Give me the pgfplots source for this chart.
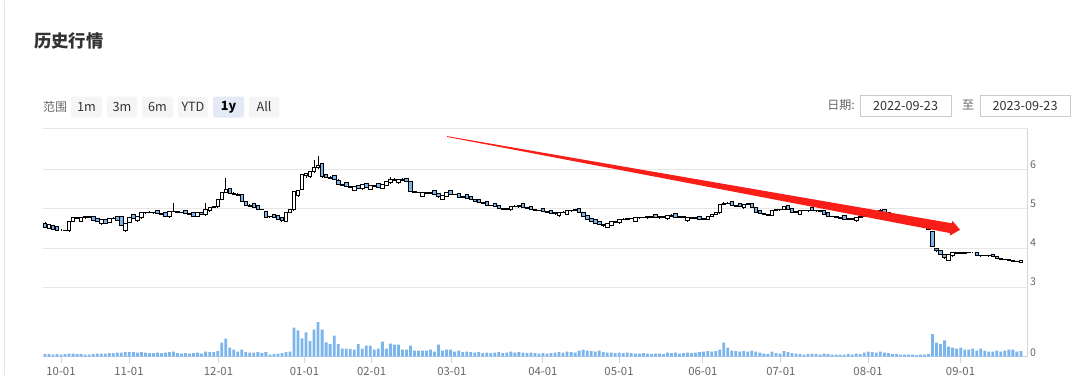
\documentclass[border=0pt]{standalone}
\usepackage{pgfplots}
\pgfplotsset{compat=1.18}
\usepackage{pgfplotstable}
\usepackage{fontspec}
\setmainfont{Noto Sans CJK SC}
\definecolor{cblue}{HTML}{7CB5EC}
\definecolor{gridc}{HTML}{E6E6E6}
\definecolor{axisc}{HTML}{CCD6EB}
\definecolor{labc}{HTML}{666666}
\definecolor{txt}{HTML}{333333}
\definecolor{btn}{HTML}{F5F5F5}
\definecolor{btnsel}{HTML}{E4EAF5}
\definecolor{boxc}{HTML}{CCCCCC}
\definecolor{arrowred}{RGB}{250,30,25}

\pgfplotstableread{
i o h l c v
0 4.63 4.66 4.51 4.53 25
1 4.50 4.62 4.49 4.60 25
2 4.59 4.60 4.47 4.48 20
3 4.55 4.56 4.44 4.45 25
4 4.46 4.48 4.44 4.46 20
5 4.46 4.47 4.43 4.45 25
6 4.44 4.69 4.43 4.68 30
7 4.68 4.80 4.67 4.79 30
8 4.78 4.80 4.76 4.77 25
9 4.69 4.80 4.68 4.78 25
10 4.78 4.82 4.77 4.80 20
11 4.80 4.81 4.77 4.79 20
12 4.80 4.81 4.69 4.70 25
13 4.77 4.78 4.66 4.67 30
14 4.62 4.73 4.61 4.72 30
15 4.74 4.75 4.62 4.64 30
16 4.66 4.78 4.65 4.77 35
17 4.77 4.79 4.75 4.76 35
18 4.80 4.81 4.69 4.70 40
19 4.80 4.81 4.58 4.59 40
20 4.44 4.63 4.42 4.62 45
21 4.66 4.79 4.65 4.78 45
22 4.86 4.87 4.75 4.76 45
23 4.70 4.81 4.69 4.80 40
24 4.78 4.93 4.77 4.92 45
25 4.90 4.93 4.89 4.92 40
26 4.92 4.94 4.89 4.90 35
27 4.90 4.92 4.88 4.91 35
28 4.97 4.98 4.87 4.88 40
29 4.88 4.89 4.84 4.85 35
30 4.91 4.92 4.81 4.82 40
31 4.80 4.95 4.79 4.94 45
32 4.94 5.15 4.92 4.93 50
33 4.93 4.95 4.90 4.91 35
34 4.91 4.93 4.89 4.90 30
35 4.97 4.98 4.87 4.88 35
36 4.88 4.90 4.85 4.86 30
37 4.92 4.93 4.81 4.82 35
38 4.82 4.93 4.81 4.92 40
39 4.90 4.91 4.86 4.87 30
40 4.85 5.15 4.84 4.98 50
41 4.95 5.05 4.94 5.04 45
42 5.04 5.07 5.02 5.06 45
43 5.06 5.26 5.05 5.25 55
44 5.25 5.44 5.23 5.42 140
45 5.42 5.80 5.40 5.50 180
46 5.52 5.54 5.39 5.40 90
47 5.40 5.42 5.36 5.38 70
48 5.38 5.40 5.33 5.35 50
49 5.37 5.38 5.17 5.18 70
50 5.20 5.21 5.09 5.10 45
51 5.10 5.12 5.06 5.07 40
52 5.14 5.15 5.04 5.05 40
53 5.09 5.10 4.99 5.00 45
54 5.00 5.01 4.96 4.98 35
55 4.93 4.94 4.77 4.78 45
56 4.80 4.83 4.78 4.81 20
57 4.87 4.88 4.77 4.78 25
58 4.83 4.84 4.73 4.74 30
59 4.79 4.80 4.66 4.70 35
60 4.68 4.91 4.67 4.90 45
61 4.92 5.01 4.91 5.00 50
62 4.98 5.45 4.97 5.44 289
63 5.35 5.49 5.30 5.48 262
64 5.50 5.89 5.48 5.88 182
65 5.85 5.92 5.80 5.90 241
66 5.82 5.96 5.80 5.95 155
67 5.95 6.25 5.93 6.05 268
68 6.05 6.35 6.02 6.10 344
69 6.16 6.18 5.80 5.82 268
70 5.89 5.90 5.78 5.80 141
71 5.80 5.83 5.76 5.78 124
72 5.86 5.87 5.74 5.76 210
73 5.74 5.76 5.60 5.62 124
74 5.62 5.64 5.58 5.60 80
75 5.67 5.68 5.56 5.58 80
76 5.58 5.59 5.53 5.55 75
77 5.48 5.58 5.47 5.57 70
78 5.61 5.62 5.50 5.52 124
79 5.52 5.64 5.51 5.62 80
80 5.66 5.67 5.55 5.56 110
81 5.51 5.61 5.50 5.60 110
82 5.60 5.62 5.57 5.58 70
83 5.64 5.65 5.53 5.55 80
84 5.53 5.63 5.52 5.62 150
85 5.61 5.71 5.60 5.70 80
86 5.67 5.82 5.66 5.76 130
87 5.76 5.78 5.72 5.74 120
88 5.67 5.77 5.66 5.76 120
89 5.76 5.78 5.72 5.73 70
90 5.79 5.80 5.69 5.70 70
91 5.70 5.71 5.42 5.44 110
92 5.44 5.46 5.41 5.42 60
93 5.42 5.44 5.40 5.41 60
94 5.33 5.44 5.32 5.42 60
95 5.42 5.43 5.38 5.40 60
96 5.40 5.42 5.38 5.41 70
97 5.47 5.48 5.36 5.38 50
98 5.40 5.41 5.29 5.31 120
99 5.25 5.35 5.24 5.34 60
100 5.33 5.43 5.32 5.42 70
101 5.47 5.48 5.37 5.38 70
102 5.38 5.39 5.35 5.36 50
103 5.39 5.40 5.29 5.30 60
104 5.30 5.33 5.29 5.32 45
105 5.37 5.38 5.27 5.28 50
106 5.33 5.34 5.23 5.24 45
107 5.24 5.25 5.19 5.20 40
108 5.25 5.26 5.15 5.16 45
109 5.16 5.17 5.12 5.13 35
110 5.19 5.20 5.09 5.10 40
111 5.10 5.11 5.07 5.08 35
112 5.15 5.16 5.05 5.06 40
113 5.10 5.11 5.00 5.01 45
114 5.01 5.03 4.99 5.00 35
115 5.00 5.03 4.99 5.02 40
116 4.98 5.08 4.97 5.07 50
117 5.07 5.09 5.05 5.06 40
118 5.06 5.09 5.05 5.08 45
119 5.13 5.14 5.04 5.05 40
120 5.05 5.06 5.01 5.02 35
121 5.07 5.08 4.97 4.98 40
122 4.98 5.00 4.96 4.97 35
123 4.97 4.98 4.94 4.95 30
124 5.02 5.03 4.92 4.93 35
125 4.93 4.94 4.89 4.90 30
126 4.97 4.98 4.87 4.88 35
127 4.88 4.91 4.87 4.90 40
128 4.83 4.93 4.82 4.92 45
129 4.92 4.94 4.90 4.91 40
130 4.86 4.96 4.85 4.95 50
131 4.95 4.98 4.94 4.97 45
132 4.97 4.99 4.95 4.98 40
133 5.01 5.02 4.91 4.92 60
134 4.91 4.92 4.81 4.82 70
135 4.83 4.84 4.73 4.74 60
136 4.77 4.78 4.67 4.68 55
137 4.73 4.74 4.63 4.64 50
138 4.69 4.70 4.59 4.60 60
139 4.60 4.61 4.55 4.57 45
140 4.53 4.63 4.52 4.62 40
141 4.59 4.69 4.58 4.68 40
142 4.66 4.69 4.65 4.67 35
143 4.65 4.75 4.64 4.74 40
144 4.74 4.76 4.72 4.73 35
145 4.73 4.77 4.72 4.76 40
146 4.76 4.78 4.74 4.75 35
147 4.69 4.79 4.68 4.78 30
148 4.78 4.80 4.77 4.79 30
149 4.79 4.80 4.76 4.78 35
150 4.78 4.81 4.77 4.80 30
151 4.80 4.81 4.78 4.79 25
152 4.86 4.87 4.77 4.78 30
153 4.78 4.81 4.77 4.80 30
154 4.80 4.82 4.78 4.79 25
155 4.75 4.85 4.74 4.84 40
156 4.84 4.86 4.81 4.82 35
157 4.88 4.89 4.78 4.79 40
158 4.79 4.81 4.78 4.80 30
159 4.80 4.81 4.77 4.78 35
160 4.70 4.80 4.69 4.79 40
161 4.79 4.80 4.76 4.77 35
162 4.77 4.79 4.76 4.78 40
163 4.82 4.83 4.72 4.73 45
164 4.73 4.77 4.72 4.76 50
165 4.73 4.83 4.72 4.82 55
166 4.82 4.87 4.81 4.86 50
167 4.86 4.91 4.85 4.90 55
168 4.90 5.13 4.89 5.12 70
169 5.12 5.17 5.10 5.15 140
170 5.15 5.18 5.12 5.14 90
171 5.19 5.20 5.09 5.10 60
172 5.10 5.11 5.06 5.07 55
173 5.15 5.16 5.05 5.06 50
174 5.03 5.13 5.02 5.12 55
175 5.12 5.15 5.11 5.13 50
176 5.13 5.14 5.02 5.03 60
177 5.03 5.04 4.91 4.92 50
178 4.97 4.98 4.87 4.88 40
179 4.88 4.89 4.84 4.85 30
180 4.85 4.87 4.83 4.84 25
181 4.84 4.97 4.83 4.96 50
182 4.96 4.99 4.95 4.98 35
183 4.98 5.01 4.97 5.00 30
184 5.00 5.07 4.99 5.06 55
185 5.09 5.10 4.99 5.00 45
186 5.01 5.02 4.91 4.92 35
187 4.92 4.95 4.91 4.94 30
188 4.87 4.97 4.86 4.96 25
189 4.96 4.97 4.94 4.95 20
190 4.95 4.98 4.94 4.97 25
191 5.04 5.05 4.94 4.95 30
192 4.95 4.97 4.94 4.96 25
193 4.96 4.97 4.93 4.94 20
194 4.96 4.97 4.86 4.87 30
195 4.91 4.92 4.81 4.82 25
196 4.82 4.83 4.79 4.80 20
197 4.80 4.81 4.77 4.78 20
198 4.78 4.79 4.75 4.76 20
199 4.83 4.84 4.73 4.74 20
200 4.74 4.76 4.73 4.75 25
201 4.75 4.76 4.73 4.74 20
202 4.70 4.80 4.69 4.79 30
203 4.79 4.83 4.78 4.82 25
204 4.82 4.86 4.81 4.85 40
205 4.85 4.89 4.84 4.88 50
206 4.88 4.91 4.87 4.90 45
207 4.90 4.94 4.89 4.93 40
208 4.93 5.00 4.92 4.95 50
209 4.99 5.00 4.89 4.90 40
210 4.90 4.91 4.85 4.86 35
211 4.86 4.87 4.81 4.82 25
212 4.85 4.86 4.75 4.76 25
213 4.76 4.77 4.71 4.72 20
214 4.72 4.73 4.66 4.67 20
215 4.67 4.68 4.62 4.63 20
216 4.63 4.64 4.59 4.60 20
217 4.60 4.62 4.57 4.58 15
218 4.58 4.59 4.55 4.56 20
219 4.56 4.57 4.53 4.54 20
220 4.57 4.58 4.47 4.48 25
221 4.42 4.43 4.02 4.03 224
222 3.98 3.99 3.90 3.95 138
223 3.93 3.94 3.83 3.84 124
224 3.84 3.85 3.73 3.75 162
225 3.69 3.85 3.68 3.84 100
226 3.80 3.89 3.79 3.88 90
227 3.88 3.89 3.86 3.87 80
228 3.89 3.90 3.86 3.87 90
229 3.87 3.90 3.86 3.89 70
230 3.89 3.91 3.88 3.90 70
231 3.90 3.91 3.89 3.90 80
232 3.90 3.91 3.79 3.80 60
233 3.80 3.82 3.79 3.81 80
234 3.81 3.82 3.79 3.80 60
235 3.80 3.82 3.79 3.81 50
236 3.85 3.86 3.77 3.78 50
237 3.78 3.79 3.73 3.74 60
238 3.74 3.75 3.71 3.72 50
239 3.72 3.73 3.70 3.71 60
240 3.71 3.72 3.68 3.69 70
241 3.69 3.70 3.66 3.67 70
242 3.67 3.68 3.64 3.65 50
243 3.64 3.69 3.63 3.68 55
}\kdata

\begin{document}
\begin{tikzpicture}[x=0.75pt,y=-0.75pt]
\fill[white] (0,0) rectangle (1080,374);
\draw[gridc, line width=0.75pt] (4.5,0) -- (4.5,374);
% title
\node[anchor=west, inner sep=0, text=txt, font=\fontsize{13}{15}\selectfont\bfseries] at (34,40) {历史行情};
% toolbar
\node[inner sep=0, text=labc, font=\fontsize{9}{11}\selectfont] at (55,106) {范围};
\foreach \xa/\xb/\lab in {71/102/1m, 107/137/3m, 142/173/6m, 178/208/YTD, 249/279/All}{
  \fill[btn, rounded corners=1.5pt] (\xa,96) rectangle (\xb,117);
  \node[inner sep=0, text=txt, font=\fontsize{9.5}{11}\selectfont] at ({(\xa+\xb)/2},106.5) {\lab};
}
\fill[btnsel, rounded corners=1.5pt] (213,96) rectangle (244,117);
\node[inner sep=0, text=black, font=\fontsize{9.5}{11}\selectfont\bfseries] at (228.5,106.5) {1y};
% dates
\node[inner sep=0, text=labc, font=\fontsize{9}{11}\selectfont] at (841,105) {日期:};
\draw[boxc, line width=0.75pt] (860,95) rectangle (951,116);
\node[inner sep=0, text=txt, font=\fontsize{9.5}{11}\selectfont] at (905.5,105.5) {2022-09-23};
\node[inner sep=0, text=labc, font=\fontsize{9}{11}\selectfont] at (968,105) {至};
\draw[boxc, line width=0.75pt] (980,95) rectangle (1070,116);
\node[inner sep=0, text=txt, font=\fontsize{9.5}{11}\selectfont] at (1025,105.5) {2023-09-23};
% separator
\draw[gridc, line width=0.75pt] (43,128) -- (1028,128);

% price axis: grid, labels and wicks
\begin{axis}[at={(32.25pt,-223.82pt)}, anchor=south west, scale only axis,
  width=738pt, height=126.2pt,
  xmin=43, xmax=1027, ymin=2.7, ymax=7,
  axis x line=none, axis y line*=right,
  y axis line style={draw=none},
  ytick={3,4,5,6}, major tick length=0pt,
  ymajorgrids, grid style={gridc, line width=0.75pt},
  /pgf/number format/assume math mode=true,
  yticklabel style={anchor=center, xshift=4.5pt, yshift=4.1pt, text=labc,
    font=\fontsize{8}{9}\selectfont},
  clip=false]
\addplot[draw=none, mark=none,
  error bars/.cd, y dir=both, y explicit, error mark=none,
  error bar style={draw=black, line width=0.75pt}]
  table[x expr=45+4.016*\thisrow{i}, y=o,
        y error plus expr=\thisrow{h}-\thisrow{o},
        y error minus expr=\thisrow{o}-\thisrow{l}] \kdata;
\end{axis}

% candle bodies
\begin{axis}[at={(32.25pt,-223.82pt)}, anchor=south west, scale only axis,
  width=738pt, height=126.2pt,
  xmin=43, xmax=1027, ymin=2.7, ymax=7,
  hide axis, ybar stacked, bar width=3.5]
\addplot[fill=none, draw=none]
  table[x expr=45+4.016*\thisrow{i}, y expr={min(\thisrow{o},\thisrow{c})}] \kdata;
\addplot[fill=white, draw=black, line width=0.6pt]
  table[x expr=45+4.016*\thisrow{i}, y expr={max(\thisrow{c}-\thisrow{o},0)}] \kdata;
\addplot[fill=cblue, draw=black, line width=0.6pt]
  table[x expr=45+4.016*\thisrow{i}, y expr={max(\thisrow{o}-\thisrow{c},0)}] \kdata;
\end{axis}

% volume
\begin{axis}[at={(32.25pt,-267pt)}, anchor=south west, scale only axis,
  width=738pt, height=37.5pt,
  xmin=43, xmax=1027, ymin=0, ymax=500,
  ybar, bar width=2.8,
  axis x line*=bottom, axis y line*=right,
  x axis line style={axisc, line width=0.75pt},
  y axis line style={draw=none},
  xtick={61,129,218.5,304.5,371.6,451.8,542.8,619,702.8,780.9,868,960.5},
  xticklabels={10-01,11-01,12-01,01-01,02-01,03-01,04-01,05-01,06-01,07-01,08-01,09-01},
  xtick align=outside, xtick style={axisc, line width=0.75pt},
  major tick length=4.5pt,
  ytick={0}, ytick style={draw=none},
  /pgf/number format/assume math mode=true,
  yticklabel style={anchor=center, xshift=4.5pt, yshift=3pt, text=labc,
    font=\fontsize{8}{9}\selectfont},
  xticklabel style={text=labc, font=\fontsize{8.5}{10}\selectfont},
  clip=false]
\addplot[fill=cblue, draw=none] table[x expr=45+4.016*\thisrow{i}, y=v] \kdata;
\end{axis}

\draw[axisc, line width=0.75pt] (1027.5,128) -- (1027.5,356);

% red annotation arrow
\fill[arrowred] (447,135.6) -- (447,136.4)
  -- (950.2,232.6) -- (949.8,235.1) -- (960,229.3)
  -- (952.4,220.3) -- (952.0,222.8) -- cycle;
\end{tikzpicture}
\end{document}
